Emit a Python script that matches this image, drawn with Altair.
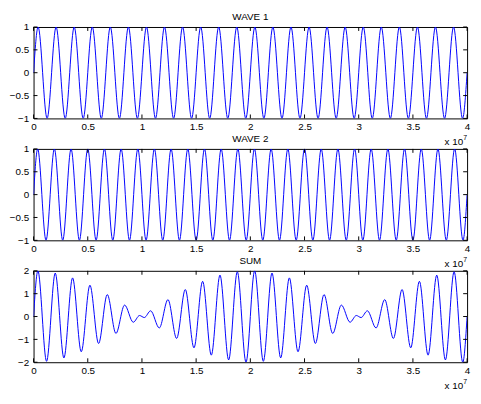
import altair as alt
import pandas as pd

# x values in units of 10^7 (as the axis shows)
W1_X = [0, 0.042, 0.125, 0.208, 0.292, 0.375, 0.458, 0.542, 0.625, 0.708, 0.792, 0.875, 0.958,
        1.042, 1.125, 1.208, 1.292, 1.375, 1.458, 1.542, 1.625, 1.708, 1.792, 1.875, 1.958,
        2.042, 2.125, 2.208, 2.292, 2.375, 2.458, 2.542, 2.625, 2.708, 2.792, 2.875, 2.958,
        3.042, 3.125, 3.208, 3.292, 3.375, 3.458, 3.542, 3.625, 3.708, 3.792, 3.875, 3.958, 4.0]
W1_Y = [0, 1, -1, 1, -1, 1, -1, 1, -1, 1, -1, 1, -1,
        1, -1, 1, -1, 1, -1, 1, -1, 1, -1, 1, -1,
        1, -1, 1, -1, 1, -1, 1, -1, 1, -1, 1, -1,
        1, -1, 1, -1, 1, -1, 1, -1, 1, -1, 1, -1, 0]

W2_X = [0, 0.038, 0.115, 0.192, 0.269, 0.346, 0.423, 0.5, 0.577, 0.654, 0.731, 0.808, 0.885, 0.962,
        1.038, 1.115, 1.192, 1.269, 1.346, 1.423, 1.5, 1.577, 1.654, 1.731, 1.808, 1.885, 1.962,
        2.038, 2.115, 2.192, 2.269, 2.346, 2.423, 2.5, 2.577, 2.654, 2.731, 2.808, 2.885, 2.962,
        3.038, 3.115, 3.192, 3.269, 3.346, 3.423, 3.5, 3.577, 3.654, 3.731, 3.808, 3.885, 3.962, 4.0]
W2_Y = [0, 1, -1, 1, -1, 1, -1, 1, -1, 1, -1, 1, -1, 1,
        -1, 1, -1, 1, -1, 1, -1, 1, -1, 1, -1, 1, -1,
        1, -1, 1, -1, 1, -1, 1, -1, 1, -1, 1, -1, 1,
        -1, 1, -1, 1, -1, 1, -1, 1, -1, 1, -1, 1, -1, 0]

SUM_X = [0, 0.04, 0.12, 0.20, 0.28, 0.36, 0.44, 0.52, 0.60, 0.68, 0.76, 0.84, 0.92, 0.978,
         1.022, 1.08, 1.16, 1.24, 1.32, 1.40, 1.48, 1.56, 1.64, 1.72, 1.80, 1.88, 1.96,
         2.04, 2.12, 2.20, 2.28, 2.36, 2.44, 2.52, 2.60, 2.68, 2.76, 2.84, 2.92, 2.978,
         3.022, 3.08, 3.16, 3.24, 3.32, 3.40, 3.48, 3.56, 3.64, 3.72, 3.80, 3.88, 3.96, 4.0]
SUM_Y = [0, 2.0, -1.96, 1.90, -1.81, 1.69, -1.54, 1.37, -1.18, 0.96, -0.74, 0.50, -0.25, 0.045,
         -0.045, 0.25, -0.50, 0.74, -0.96, 1.18, -1.37, 1.54, -1.69, 1.81, -1.90, 1.96, -2.0,
         2.0, -1.96, 1.90, -1.81, 1.69, -1.54, 1.37, -1.18, 0.96, -0.74, 0.50, -0.25, 0.045,
         -0.045, 0.25, -0.50, 0.74, -0.96, 1.18, -1.37, 1.54, -1.69, 1.81, -1.90, 1.96, -2.0, 0]

X_TICKS = [0, 0.5, 1, 1.5, 2, 2.5, 3, 3.5, 4]
Y_TICKS_WAVE = [-1, -0.5, 0, 0.5, 1]
Y_TICKS_SUM = [-2, -1, 0, 1, 2]
TITLES = ["WAVE 1", "WAVE 2", "SUM"]

W = 441
H = 93
TICK = 4
FONT = "Liberation Sans"


def panel(xs, ys, yticks, title):
    df = pd.DataFrame({"x": xs, "y": ys})
    xsc = alt.Scale(domain=[0, 4], nice=False, zero=False)
    ysc = alt.Scale(domain=[yticks[0], yticks[-1]], nice=False, zero=False)
    xax = alt.Axis(values=X_TICKS, format="~g", ticks=False, domain=False, grid=False,
                   labelPadding=3, title=None, labelFlush=False)
    yax = alt.Axis(values=yticks, format="~g", ticks=False, domain=False, grid=False,
                   labelPadding=5, title=None, labelFlush=False)
    X = alt.X("x:Q", scale=xsc, axis=xax)
    Y = alt.Y("y:Q", scale=ysc, axis=yax)

    line = alt.Chart(df).mark_line(interpolate="monotone", color="#0000ff",
                                   strokeWidth=1, clip=True).encode(x=X, y=Y)

    xt = pd.DataFrame({"x": X_TICKS})
    yt = pd.DataFrame({"y": yticks})
    bot = alt.Chart(xt).mark_rule(color="black", strokeWidth=1).encode(
        x=X, y=alt.value(H), y2=alt.value(H - TICK))
    top = alt.Chart(xt).mark_rule(color="black", strokeWidth=1).encode(
        x=X, y=alt.value(0), y2=alt.value(TICK))
    left = alt.Chart(yt).mark_rule(color="black", strokeWidth=1).encode(
        y=Y, x=alt.value(0), x2=alt.value(TICK))
    right = alt.Chart(yt).mark_rule(color="black", strokeWidth=1).encode(
        y=Y, x=alt.value(W), x2=alt.value(W - TICK))

    one = alt.Data(values=[{"a": 1}])
    ttl = alt.Chart(one).mark_text(align="center", baseline="alphabetic", fontSize=10,
                                   font=FONT, color="black").encode(
        x=alt.value(W / 2), y=alt.value(-7), text=alt.value(title))
    t1 = alt.Chart(one).mark_text(align="right", baseline="alphabetic", fontSize=10,
                                  font=FONT, color="black").encode(
        x=alt.value(W - 4), y=alt.value(H + 27), text=alt.value("x 10"))
    t2 = alt.Chart(one).mark_text(align="right", baseline="alphabetic", fontSize=7,
                                  font=FONT, color="black").encode(
        x=alt.value(W), y=alt.value(H + 22), text=alt.value("7"))

    return alt.layer(line, bot, top, left, right, ttl, t1, t2).properties(
        width=W, height=H)


p1 = panel(W1_X, W1_Y, Y_TICKS_WAVE, TITLES[0])
p2 = panel(W2_X, W2_Y, Y_TICKS_WAVE, TITLES[1])
p3 = panel(SUM_X, SUM_Y, Y_TICKS_SUM, TITLES[2])

chart = alt.vconcat(p1, p2, p3, spacing=31, bounds="flush").properties(
    padding={"left": 0, "top": 0, "right": 2, "bottom": 0},
    background="white"
).configure_view(stroke="black", strokeWidth=1).configure_axis(
    labelFont=FONT, labelFontSize=10, labelColor="black"
)

chart.save("out.html", embed_options={"renderer": "svg", "actions": False})
